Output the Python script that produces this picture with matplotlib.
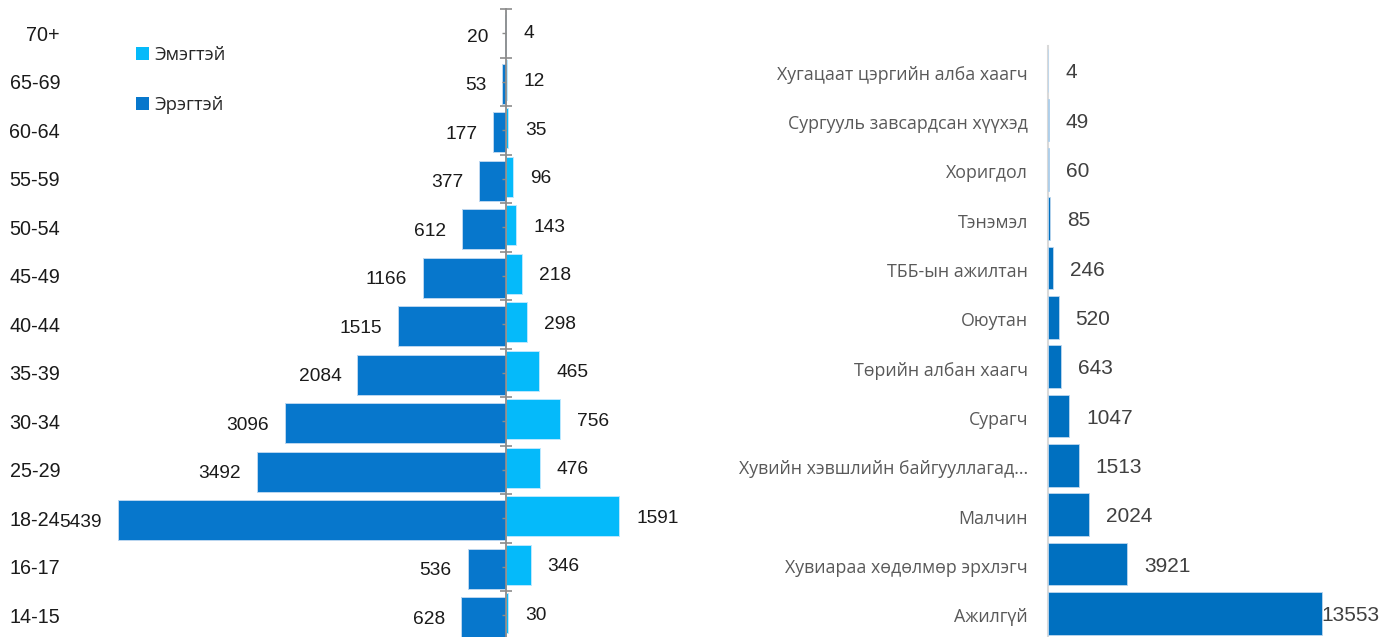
import matplotlib
matplotlib.use('Agg')
import matplotlib.pyplot as plt
import matplotlib.transforms as mtransforms
from matplotlib.patches import Patch
import numpy as np

# ---------------- data ----------------
age_groups = ['70+', '65-69', '60-64', '55-59', '50-54', '45-49', '40-44',
              '35-39', '30-34', '25-29', '18-24', '16-17', '14-15']
male = [20, 53, 177, 377, 612, 1166, 1515, 2084, 3096, 3492, 5439, 536, 628]
female = [4, 12, 35, 96, 143, 218, 298, 465, 756, 476, 1591, 346, 30]
legend_labels = ['Эмэгтэй', 'Эрэгтэй']

occupations = ['Хугацаат цэргийн алба хаагч', 'Сургууль завсардсан хүүхэд',
               'Хоригдол', 'Тэнэмэл', 'ТББ-ын ажилтан', 'Оюутан',
               'Төрийн албан хаагч', 'Сурагч',
               'Хувийн хэвшлийн байгууллагад...', 'Малчин',
               'Хувиараа хөдөлмөр эрхлэгч', 'Ажилгүй']
occ_values = [4, 49, 60, 85, 246, 520, 643, 1047, 1513, 2024, 3921, 13553]

# ---------------- style ----------------
W, H = 1396, 637
MALE_C = '#0777CC'
FEMALE_C = '#05BAFA'
OCC_C = '#0070C0'
NUM_FONT = ['Liberation Sans', 'DejaVu Sans']
LAB_FONT = ['Open Sans', 'DejaVu Sans']
DY = -2  # pixel nudge for vertical text centring

fig = plt.figure(figsize=(W / 100, H / 100), dpi=100)


def px_axes(x0, ytop, x1, ybot):
    return fig.add_axes([x0 / W, 1 - ybot / H, (x1 - x0) / W, (ybot - ytop) / H])


# ---------------- left: pyramid ----------------
ax1 = px_axes(0, 9, 740, 639.5)
n = len(age_groups)
ypos = np.arange(n)[::-1]
units_per_px = 5439 / 388.0
ax1.set_xlim(-506 * units_per_px, 234 * units_per_px)
ax1.set_ylim(-0.5, n - 0.5)

ax1.barh(ypos - 0.04, [-m for m in male], height=0.83, color=MALE_C,
         edgecolor='#BBD6F0', linewidth=0.7, zorder=1)
ax1.barh(ypos + 0.04, female, height=0.83, color=FEMALE_C,
         edgecolor='#BBE8FF', linewidth=0.7, zorder=1)

for s in ['top', 'right', 'bottom']:
    ax1.spines[s].set_visible(False)
ax1.spines['left'].set_position(('data', 0))
ax1.spines['left'].set_color('#8C8C8C')
ax1.spines['left'].set_linewidth(1.3)
ax1.set_xticks([])
ax1.set_yticks(np.arange(-0.5, n, 1.0))
ax1.set_yticks(np.arange(0, n, 1.0), minor=True)
ax1.tick_params(axis='y', which='major', direction='inout', length=9,
                width=1.2, color='#8C8C8C', labelleft=False)
ax1.tick_params(axis='y', which='minor', direction='out', length=3,
                width=1.0, color='#8C8C8C', labelleft=False)

tr = mtransforms.blended_transform_factory(ax1.transAxes, ax1.transData)
tr = tr + mtransforms.ScaledTranslation(0, DY / 100, fig.dpi_scale_trans)
for y, lab in zip(ypos, age_groups):
    ax1.text(60 / 740, y, lab, transform=tr, ha='right', va='center',
             fontsize=14.2, family=NUM_FONT, color='#1A1A1A')

for y, m in zip(ypos, male):
    ax1.annotate(str(m), xy=(-m, y - 0.04), xytext=(-16, DY),
                 textcoords='offset pixels', ha='right', va='center',
                 fontsize=13.8, family=NUM_FONT, color='#1A1A1A')
for y, f in zip(ypos, female):
    ax1.annotate(str(f), xy=(f, y + 0.04), xytext=(17, DY),
                 textcoords='offset pixels', ha='left', va='center',
                 fontsize=13.8, family=NUM_FONT, color='#1A1A1A')

handles = [Patch(facecolor=FEMALE_C), Patch(facecolor=MALE_C)]
fig.legend(handles, legend_labels, loc='upper left',
           bbox_to_anchor=(136 / W, 1 - 46 / H), frameon=False,
           borderpad=0, borderaxespad=0, handlelength=0.7,
           handleheight=0.7, handletextpad=0.3, labelspacing=1.75,
           prop={'family': LAB_FONT, 'size': 13.2}, labelcolor='#262626')

# ---------------- right: occupations ----------------
ax2 = px_axes(1048, 46, 1396, 638)
m2 = len(occupations)
ypos2 = np.arange(m2)[::-1]
px_per_unit2 = 274 / 13553.0
xmax2 = 348 / px_per_unit2
ax2.set_xlim(0, xmax2)
ax2.set_ylim(-0.5, m2 - 0.5)
ax2.barh(ypos2, occ_values, height=0.87, color=OCC_C,
         edgecolor='#BDD7EE', linewidth=0.6, zorder=2)
for s in ['top', 'right', 'bottom']:
    ax2.spines[s].set_visible(False)
ax2.spines['left'].set_color('#D9D9D9')
ax2.spines['left'].set_linewidth(1.5)
ax2.spines['left'].set_zorder(1)
ax2.set_xticks([])
ax2.set_yticks(ypos2)
ax2.set_yticklabels(occupations, family=LAB_FONT, fontsize=12.8,
                    color='#595959')
ax2.tick_params(axis='y', length=0, pad=14.4)
for t in ax2.get_yticklabels():
    t.set_transform(t.get_transform() +
                    mtransforms.ScaledTranslation(0, DY / 100, fig.dpi_scale_trans))

for y, v in zip(ypos2, occ_values):
    off = 17 if v / xmax2 < 0.7 else -1
    ax2.annotate(str(v), xy=(v, y), xytext=(off, DY),
                 textcoords='offset pixels', ha='left', va='center',
                 fontsize=15, family=NUM_FONT, color='#404040')

fig.savefig('out.png', dpi=100)
